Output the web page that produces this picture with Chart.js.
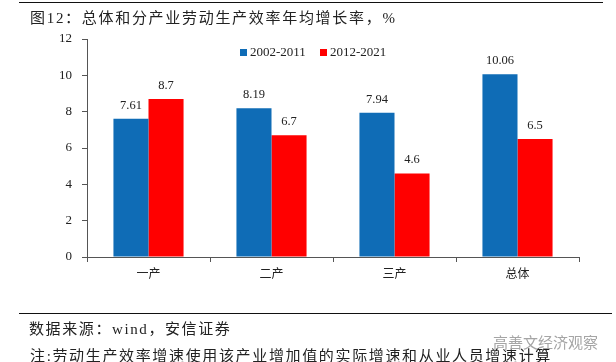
<!DOCTYPE html>
<html>
<head>
<meta charset="utf-8">
<script src="https://cdn.jsdelivr.net/npm/chart.js@4"></script>
<style>
  html, body { margin: 0; padding: 0; background: #fff; }
  #box { position: relative; width: 616px; height: 362px; overflow: hidden; font-family: "Liberation Serif", "Noto Sans CJK SC", serif; color: #222; }
  #grafico { position: absolute; left: 0; top: 0; }
  .regua { position: absolute; left: 19px; background: #111; }
  .txt { position: absolute; white-space: nowrap; }
</style>
</head>
<body>
<div id="box">
  <canvas id="grafico" width="616" height="362"></canvas>
  <div class="regua" style="top:2px;width:584px;height:1px"></div>
  <div class="txt" style="left:30px;top:6px;font-size:15px;letter-spacing:1.7px">图12：总体和分产业劳动生产效率年均增长率，%</div>
  <div class="regua" style="top:313px;width:593px;height:1px"></div>
  <div class="txt" style="left:29px;top:317px;font-size:15px;letter-spacing:1.6px">数据来源：wind，安信证券</div>
  <div class="txt" style="left:30px;top:344px;font-size:15px;letter-spacing:1.65px">注:劳动生产效率增速使用该产业增加值的实际增速和从业人员增速计算</div>
  <div class="txt" style="left:493px;top:331px;font-size:15px;color:#a5a5a5;font-family:'Noto Sans CJK SC'">高善文经济观察</div>
</div>
<script>
const categorias = ['一产', '二产', '三产', '总体'];
const serie1 = [7.61, 8.19, 7.94, 10.06];
const serie2 = [8.7, 6.7, 4.6, 6.5];
const nomes = ['2002-2011', '2012-2021'];
const rotulos1 = ['7.61', '8.19', '7.94', '10.06'];
const rotulos2 = ['8.7', '6.7', '4.6', '6.5'];

const azul = '#0F6CB6';
const vermelho = '#FF0000';
const fonte = '"Liberation Serif", "Noto Sans CJK SC", serif';

// escreve o valor em cima de cada barra e a legenda dentro do grafico
const rotulosPlugin = {
    id: 'rotulos',
    afterDatasetsDraw(chart) {
        const ctx = chart.ctx;
        ctx.save();
        ctx.font = '12.5px ' + fonte;
        ctx.fillStyle = '#222';
        ctx.textAlign = 'center';
        chart.data.datasets.forEach((ds, i) => {
            const textos = i === 0 ? rotulos1 : rotulos2;
            chart.getDatasetMeta(i).data.forEach((barra, j) => {
                ctx.fillText(textos[j], barra.x, barra.y - 10);
            });
        });
        ctx.font = '13px ' + fonte;
        ctx.textAlign = 'left';
        ctx.textBaseline = 'middle';
        const xLegenda = [240, 320];
        chart.data.datasets.forEach((ds, i) => {
            ctx.fillStyle = ds.backgroundColor;
            ctx.fillRect(xLegenda[i], 49, 7, 7);
            ctx.fillStyle = '#222';
            ctx.fillText(ds.label, xLegenda[i] + 10, 53);
        });
        ctx.restore();
    }
};

const ctx = document.getElementById('grafico').getContext('2d');
const grafico = new Chart(ctx, {
    type: 'bar',
    data: {
        labels: categorias,
        datasets: [{
            label: nomes[0],
            data: serie1,
            backgroundColor: azul,
            categoryPercentage: 0.57,
            barPercentage: 1
        },
        {
            label: nomes[1],
            data: serie2,
            backgroundColor: vermelho,
            categoryPercentage: 0.57,
            barPercentage: 1
        }]
    },
    plugins: [rotulosPlugin],
    options: {
        responsive: false,
        animation: false,
        layout: { padding: { left: 0, right: 37, top: 39, bottom: 0 } },
        plugins: {
            title: { display: false },
            tooltip: { enabled: false },
            legend: { display: false }
        },
        scales: {
            x: {
                grid: {
                    drawOnChartArea: false,
                    drawTicks: true,
                    tickLength: 5,
                    tickColor: '#555'
                },
                border: { color: '#555' },
                ticks: {
                    color: '#222',
                    padding: 6,
                    maxRotation: 0,
                    font: { family: fonte, size: 12 }
                },
                afterFit(scale) { scale.height = 105; }
            },
            y: {
                min: 0,
                max: 12,
                grid: {
                    drawOnChartArea: false,
                    drawTicks: true,
                    tickLength: 5,
                    tickColor: '#555'
                },
                border: { color: '#555' },
                ticks: {
                    stepSize: 2,
                    color: '#222',
                    padding: 10,
                    font: { family: fonte, size: 13 }
                },
                afterFit(scale) { scale.width = 87; }
            }
        }
    }
});
</script>
</body>
</html>
